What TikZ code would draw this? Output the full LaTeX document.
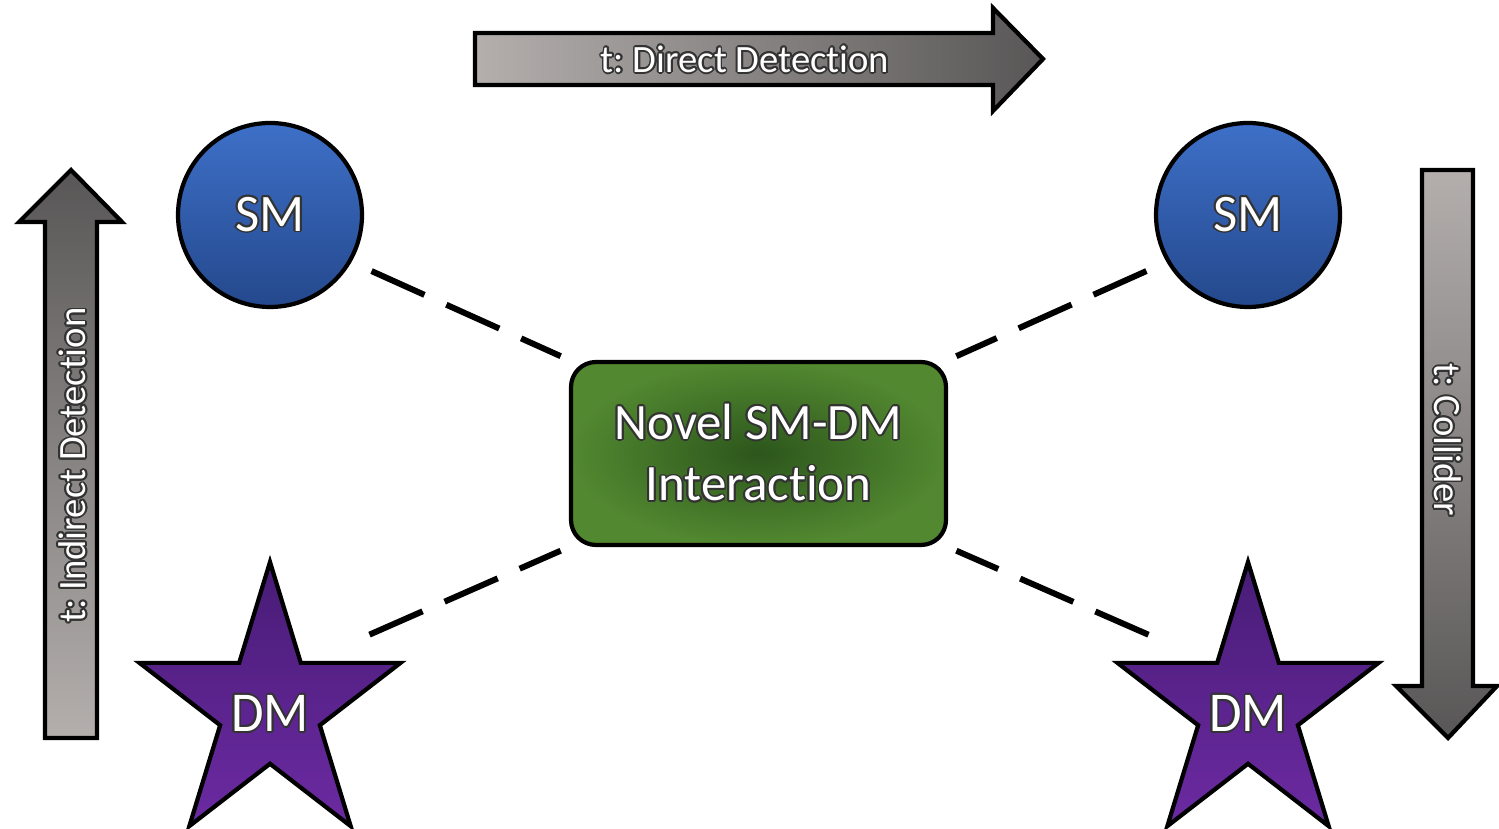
\documentclass[tikz,border=0pt]{standalone}
\usepackage{fontspec}
\setmainfont{Carlito}[Ligatures=NoCommon]
\usepackage[copies]{contour}
\usetikzlibrary{shapes.geometric}
\contourlength{0.5pt}
\frenchspacing
\definecolor{smtop}{RGB}{62,112,200}
\definecolor{smbot}{RGB}{36,72,140}
\definecolor{dmtop}{RGB}{72,28,118}
\definecolor{dmbot}{RGB}{108,42,162}
\definecolor{grlight}{RGB}{82,136,48}
\definecolor{grdark}{RGB}{44,86,28}
\definecolor{arlight}{RGB}{180,175,173}
\definecolor{ardark}{RGB}{88,86,86}
\newcommand{\olbl}[1]{\contour{black!80}{#1}}
\newcommand{\starlbl}[1]{\makebox[0pt]{\raisebox{-2.35mm}[0pt][0pt]{\olbl{#1}}}}

\tikzset{
  smnode/.style={circle, draw, line width=1.2pt, minimum size=1.84cm, top color=smtop, bottom color=smbot, text=white, font=\fontsize{15}{18}\selectfont},
  dmnode/.style={star, star points=5, star point ratio=2.618, draw, line width=1.2pt, minimum size=2.92cm, inner sep=0pt, top color=dmtop, bottom color=dmbot, text=white, font=\fontsize{16}{18}\selectfont},
  boxnode/.style={rectangle, rounded corners=0.25cm, draw, line width=1.2pt, minimum width=3.75cm, minimum height=1.83cm, inner color=grdark, outer color=grlight, align=center, text=white, font=\fontsize{14.5}{17.5}\selectfont},
  tarrow/.style={draw, line width=1.2pt},
  tlabel/.style={text=white, font=\fontsize{11}{13}\selectfont},
  link/.style={line width=0.06cm, dash pattern=on 0.58cm off 0.24cm}
}

\begin{document}
\begin{tikzpicture}
\useasboundingbox (0,0) rectangle (14.99,8.29);

\draw[tarrow, left color=arlight, right color=ardark] (4.75,7.44) -- (9.93,7.44) -- (9.93,7.18) -- (10.43,7.70) -- (9.93,8.21) -- (9.93,7.96) -- (4.75,7.96) -- cycle;
\node[tlabel] (dd) at (7.45,7.69) {\olbl{t: Direct Detection}};

\draw[tarrow, bottom color=arlight, top color=ardark] (0.45,0.91) -- (0.97,0.91) -- (0.97,6.07) -- (1.22,6.07) -- (0.71,6.59) -- (0.19,6.07) -- (0.45,6.07) -- cycle;
\node[tlabel, rotate=90] (idd) at (0.73,3.64) {\olbl{t: Indirect Detection}};

\draw[tarrow, top color=arlight, bottom color=ardark] (14.22,6.59) -- (14.73,6.59) -- (14.73,1.43) -- (14.97,1.43) -- (14.48,0.91) -- (13.96,1.43) -- (14.22,1.43) -- cycle;
\node[tlabel, rotate=-90] (col) at (14.47,3.89) {\olbl{t: Collider}};

\node[smnode] (smL) at (2.70,6.14) {\olbl{SM}};
\node[smnode] (smR) at (12.48,6.14) {\olbl{SM}};
\begin{scope}[shift={(2.70,1.21)}, xscale=0.94]
\node[dmnode, transform shape] (dmL) at (0,0) {\starlbl{DM}};
\end{scope}
\begin{scope}[shift={(12.48,1.21)}, xscale=0.94]
\node[dmnode, transform shape] (dmR) at (0,0) {\starlbl{DM}};
\end{scope}
\node[boxnode] (inter) at (7.585,3.755) {\olbl{Novel SM-DM}\\\olbl{Interaction}};

\draw[link, shorten <=0.22cm, shorten >=0.09cm] (smL.-30) -- (inter.north west);
\draw[link, shorten <=0.22cm, shorten >=0.09cm] (smR.210) -- (inter.north east);
\draw[link, shorten <=0.65cm, shorten >=0.09cm] (dmL.48) -- (inter.south west);
\draw[link, shorten <=0.65cm, shorten >=0.09cm] (dmR.132) -- (inter.south east);

\end{tikzpicture}
\end{document}
